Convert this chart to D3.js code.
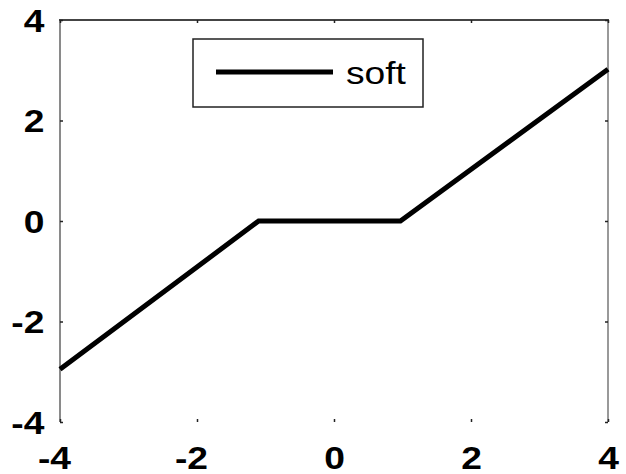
<!DOCTYPE html>
<html lang="en">
<head>
<meta charset="utf-8">
<script src="https://d3js.org/d3.v7.min.js"></script>
<style>
  body { margin: 0; background: #fff; }
  svg { display: block; }
</style>
</head>
<body>
<script>
// Width and height of the picture.
var w = 626;
var h = 474;

// Data.
var xVals = [-4, -1.1, 0.97, 4];
var yVals = [-2.95, 0, 0, 3.02];
var seriesName = "soft";
var xTicks = [-4, -2, 0, 2, 4];
var yTicks = [-4, -2, 0, 2, 4];

var svg = d3.select("body").append("svg")
    .attr("width", w)
    .attr("height", h);

// Scales for the plot box.
var x = d3.scaleLinear().domain([-4, 4]).range([60, 608]);
var y = d3.scaleLinear().domain([-4, 4]).range([422, 20]);

// Frame: left, top, right (no bottom line in the picture).
svg.append("line")
    .attr("x1", x.range()[0]).attr("x2", x.range()[0])
    .attr("y1", y.range()[1]).attr("y2", y.range()[0])
    .attr("stroke", "#8a8a8a").attr("stroke-width", 2);
svg.append("line")
    .attr("x1", x.range()[0] - 1).attr("x2", x.range()[1] + 1)
    .attr("y1", y.range()[1]).attr("y2", y.range()[1])
    .attr("stroke", "#444").attr("stroke-width", 2);
svg.append("line")
    .attr("x1", x.range()[1]).attr("x2", x.range()[1])
    .attr("y1", y.range()[1]).attr("y2", y.range()[0])
    .attr("stroke", "#999").attr("stroke-width", 2);

// Axes with tiny inward ticks.
function styleAxis(g) {
    g.select(".domain").remove();
    g.selectAll(".tick line").attr("stroke", "#222").attr("stroke-width", 1.5);
    g.selectAll(".tick text")
        .attr("fill", "#000")
        .attr("font-family", "'Liberation Sans', Arial, sans-serif")
        .attr("font-weight", "bold")
        .attr("font-size", 31);
}

var fmt = function(d) { return d < 0 ? "-" + Math.abs(d) : String(d); };

var gx = svg.append("g")
    .attr("transform", "translate(0," + y.range()[0] + ")")
    .call(d3.axisBottom(x).tickValues(xTicks).tickSize(-3).tickPadding(25).tickFormat(fmt))
    .call(styleAxis);
gx.selectAll(".tick text")
    .attr("transform", "scale(1.2,1)")
    .attr("x", function(d) { return d < 0 ? -5 : 0; });

var gy = svg.append("g")
    .attr("transform", "translate(" + x.range()[0] + ",0)")
    .call(d3.axisLeft(y).tickValues(yTicks).tickSize(-3).tickPadding(13).tickFormat(fmt))
    .call(styleAxis);
gy.selectAll(".tick text")
    .attr("transform", "scale(1.2,1)")
    .attr("dy", "0.36em");

svg.append("g")
    .attr("transform", "translate(0," + y.range()[1] + ")")
    .call(d3.axisTop(x).tickValues(xTicks).tickSize(-3).tickFormat(""))
    .call(styleAxis);
svg.append("g")
    .attr("transform", "translate(" + x.range()[1] + ",0)")
    .call(d3.axisRight(y).tickValues(yTicks).tickSize(-3).tickFormat(""))
    .call(styleAxis);

// The series line.
var pts = xVals.map(function(d, i) { return [d, yVals[i]]; });
var line = d3.line()
    .x(function(d) { return x(d[0]); })
    .y(function(d) { return y(d[1]); });
svg.append("path")
    .datum(pts)
    .attr("d", line)
    .attr("fill", "none")
    .attr("stroke", "#000")
    .attr("stroke-width", 5)
    .attr("stroke-linejoin", "miter");

// Legend box.
var lg = svg.append("g").attr("transform", "translate(193,39)");
lg.append("rect")
    .attr("width", 230).attr("height", 68)
    .attr("fill", "#fff").attr("stroke", "#222").attr("stroke-width", 1.5);
lg.append("line")
    .attr("x1", 23).attr("x2", 140)
    .attr("y1", 33).attr("y2", 33)
    .attr("stroke", "#000").attr("stroke-width", 5);
lg.append("text")
    .attr("transform", "translate(153,45) scale(1.2,1)")
    .attr("font-family", "'Liberation Sans', Arial, sans-serif")
    .attr("font-size", 31)
    .attr("fill", "#000")
    .text(seriesName);
</script>
</body>
</html>
